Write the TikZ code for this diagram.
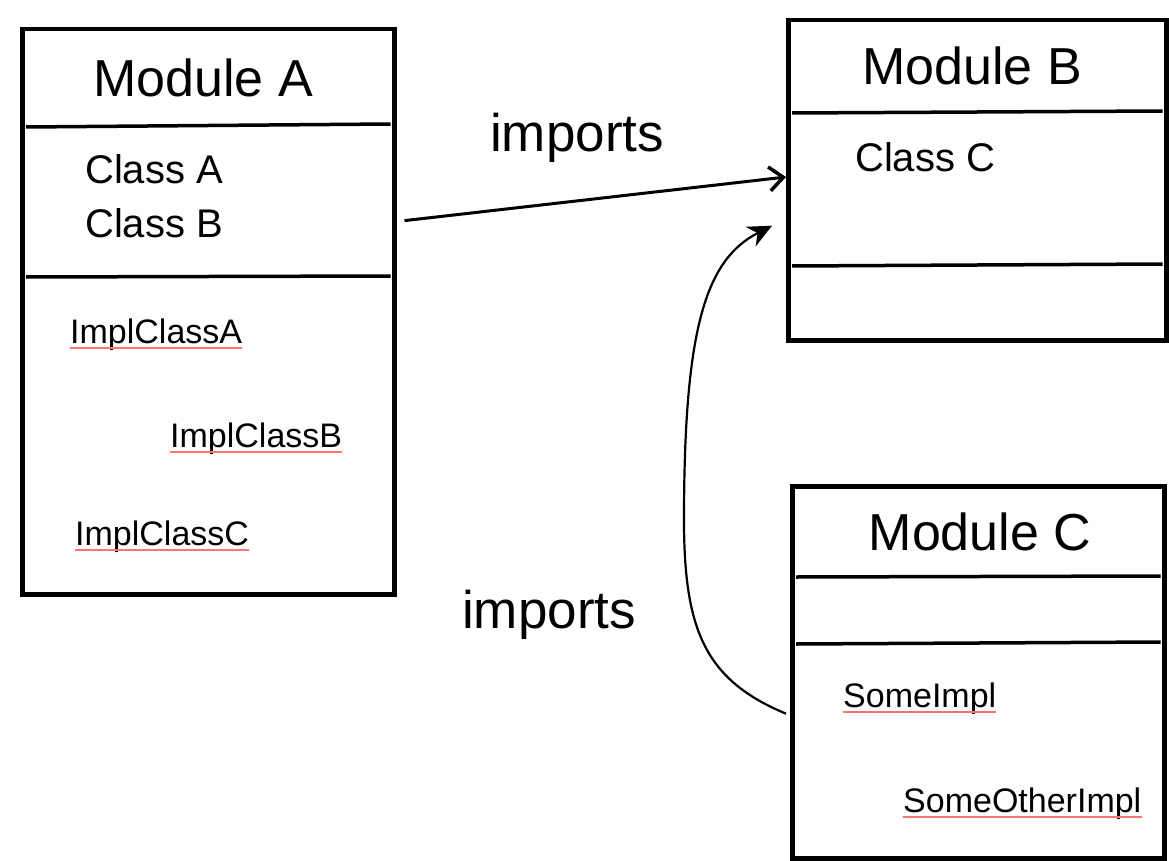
\documentclass[tikz,border=0pt]{standalone}
\usepackage{fontspec}
\setmainfont{Liberation Sans}
\usetikzlibrary{arrows.meta,calc}
\begin{document}
\begin{tikzpicture}[x=1pt,y=-1pt,
  modbox/.style={draw=black,line width=4.5pt,rectangle,anchor=north west,inner sep=0pt},
  divider/.style={line width=3.5pt},
  titletext/.style={font=\fontsize{52}{56}\selectfont,anchor=base,inner sep=0pt},
  classtext/.style={font=\fontsize{40}{44}\selectfont,anchor=base west,inner sep=0pt},
  impltext/.style={font=\fontsize{34}{36}\selectfont,anchor=base west,inner sep=0pt},
  labeltext/.style={font=\fontsize{53}{56}\selectfont,anchor=base west,inner sep=0pt},
  spell/.style={draw=red!55,line width=1.2pt},
  conn/.style={line width=3pt,-{Straight Barb[length=14pt,width=24pt,line width=3.5pt]}},
  conn2/.style={line width=2.2pt,-{Stealth[length=24pt,width=22pt]}}
]
\useasboundingbox (0,0) rectangle (1169,861);
\fill[white] (0,0) rectangle (1169,861);

% Module A
\node[modbox,minimum width=372pt,minimum height=565pt] (modA) at (20,27) {};
\draw[divider] ($(modA.north west)+(6,100)$) -- ($(modA.north east)+(-6,97)$);
\draw[divider] ($(modA.north west)+(6,250)$) -- ($(modA.north east)+(-6,249)$);
\node[titletext] (tA) at (203,97) {Module A};
\node[classtext] (cA) at (85,184) {Class A};
\node[classtext] (cB) at (85,237) {Class B};
\node[impltext] (iA) at (70,343) {ImplClassA};
\node[impltext] (iB) at (170,447) {ImplClassB};
\node[impltext] (iC) at (75,545) {ImplClassC};

% Module B
\node[modbox,minimum width=378pt,minimum height=320pt] (modB) at (786,18) {};
\draw[divider] ($(modB.north west)+(6,95)$) -- ($(modB.north east)+(-6,93)$);
\draw[divider] ($(modB.north west)+(6,248)$) -- ($(modB.north east)+(-6,246)$);
\node[titletext] (tB) at (972,85) {Module B};
\node[classtext] (cC) at (855,172) {Class C};

% Module C
\node[modbox,minimum width=372pt,minimum height=372pt] (modC) at (790,484) {};
\draw[divider] ($(modC.north west)+(6,93)$) -- ($(modC.north east)+(-6,92)$);
\draw[divider] ($(modC.north west)+(6,160)$) -- ($(modC.north east)+(-6,158)$);
\node[titletext] (tC) at (980,550) {Module C};
\node[impltext] (s1) at (843,707) {SomeImpl};
\node[impltext] (s2) at (903,812) {SomeOtherImpl};

% spell-check underlines
\foreach \n in {iA,iB,iC,s1,s2}{
  \draw[spell] ($(\n.base west)+(0,5)$) -- ($(\n.base east)+(0,5)$);
}

% labels
\node[labeltext] (l1) at (490,152) {imports};
\node[labeltext] (l2) at (462,628) {imports};

% connectors
\draw[conn] ($(modA.north east)!0.34!(modA.south east)+(8,0)$) -- ($(modB.north west)!0.49!(modB.south west)$);
\draw[conn2] ($(modC.north west)!0.61!(modC.south west)+(-4,0)$)
  .. controls (705,680) and (684,630) .. (684,520)
  .. controls (684,330) and (705,260) .. ($(modB.north west)!0.64!(modB.south west)+(-14,0)$);
\end{tikzpicture}
\end{document}
